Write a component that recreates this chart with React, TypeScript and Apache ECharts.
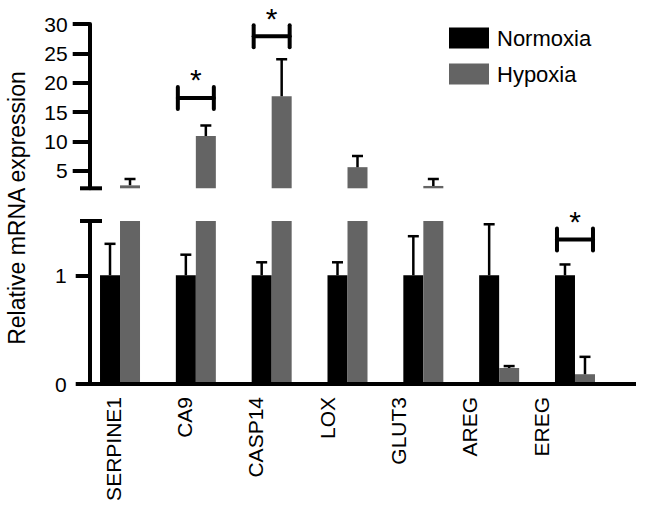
import React, { useEffect, useRef } from 'react';
import * as echarts from 'echarts';

const categories = ['SERPINE1', 'CA9', 'CASP14', 'LOX', 'GLUT3', 'AREG', 'EREG'];
const normoxia = [1, 1, 1, 1, 1, 1, 1];
const normoxiaErr = [1.29, 1.19, 1.12, 1.12, 1.36, 1.47, 1.1];
const hypoxia = [2.5, 10.9, 17.7, 5.6, 2.4, 0.147, 0.09];
const hypoxiaErr = [3.6, 12.7, 24.0, 7.5, 3.6, 0.165, 0.25];
const upperTicks = [5, 10, 15, 20, 25, 30];
const lowerTicks = [0, 1];
const upperBrackets = [[1, 17.4], [2, 27.9]];
const lowerBrackets = [[6, 1.33]];

const UPPER_MIN = 2;
const UPPER_MAX = 30;
const LOWER_MIN = 0;
const LOWER_MAX = 1.5;

const FONT = '"Liberation Sans", Arial, Helvetica, sans-serif';
const BLACK = '#000000';
const GRAY = '#646464';
const BAR_W = 20;

function errorSeries(gi: number, min: number, max: number) {
  const data: number[][] = [];
  categories.forEach((_, i) => {
    data.push([i, normoxia[i], normoxiaErr[i], -1]);
    data.push([i, hypoxia[i], hypoxiaErr[i], 1]);
  });
  return {
    type: 'custom',
    xAxisIndex: gi,
    yAxisIndex: gi,
    silent: true,
    clip: true,
    z: 5,
    data,
    renderItem: (params: any, api: any) => {
      const i = api.value(0);
      const lo = api.value(1);
      const hi = api.value(2);
      const side = api.value(3);
      if (hi < min || lo > max) return { type: 'group', children: [] };
      const b = api.coord([i, lo]);
      const t = api.coord([i, hi]);
      const x = b[0] + (side * BAR_W) / 2;
      const st = { stroke: BLACK, lineWidth: 2.5 };
      return {
        type: 'group',
        children: [
          { type: 'line', shape: { x1: x, y1: b[1], x2: x, y2: t[1] }, style: st },
          { type: 'line', shape: { x1: x - 5.5, y1: t[1], x2: x + 5.5, y2: t[1] }, style: st },
        ],
      };
    },
  };
}

function bracketSeries(gi: number, data: number[][]) {
  return {
    type: 'custom',
    xAxisIndex: gi,
    yAxisIndex: gi,
    silent: true,
    clip: false,
    z: 6,
    data,
    renderItem: (params: any, api: any) => {
      const p = api.coord([api.value(0), api.value(1)]);
      const hw = 18;
      const ch = 11;
      const st = { stroke: BLACK, lineWidth: 4, lineCap: 'round' };
      return {
        type: 'group',
        children: [
          { type: 'line', shape: { x1: p[0] - hw, y1: p[1], x2: p[0] + hw, y2: p[1] }, style: st },
          { type: 'line', shape: { x1: p[0] - hw, y1: p[1] - ch, x2: p[0] - hw, y2: p[1] + ch }, style: st },
          { type: 'line', shape: { x1: p[0] + hw, y1: p[1] - ch, x2: p[0] + hw, y2: p[1] + ch }, style: st },
          {
            type: 'text',
            x: p[0],
            y: p[1] - 18,
            style: { text: '*', align: 'center', verticalAlign: 'middle', fontSize: 30, fill: BLACK, fontFamily: FONT },
          },
        ],
      };
    },
  };
}

export default function App() {
  const ref = useRef<HTMLDivElement>(null);
  useEffect(() => {
    if (!ref.current) return;
    const chart = echarts.init(ref.current, undefined, { renderer: 'svg' });
    const yAxisCommon = {
      type: 'value',
      offset: -7.6,
      splitLine: { show: false },
      axisLine: { show: true, lineStyle: { color: BLACK, width: 4 } },
    };
    chart.setOption({
      animation: false,
      backgroundColor: '#ffffff',
      grid: [
        { left: 82.1, right: 33.1, top: 24, height: 164.3 },
        { left: 82.1, right: 33.1, top: 221, height: 163 },
        { left: 77.6, right: 69.3, top: 221, height: 163 },
      ],
      legend: {
        data: ['Normoxia', 'Hypoxia'],
        orient: 'vertical',
        left: 444,
        top: 22,
        itemWidth: 40,
        itemHeight: 21,
        itemGap: 14,
        icon: 'rect',
        selectedMode: false,
        textStyle: { fontSize: 22, color: BLACK, fontFamily: FONT, lineHeight: 21, padding: [0, 0, 0, 3] },
      },
      xAxis: [
        { gridIndex: 0, type: 'category', data: categories, show: false },
        {
          gridIndex: 1,
          type: 'category',
          data: categories,
          axisLine: { show: false },
          axisTick: { show: false },
          axisLabel: { show: false },
        },
        {
          gridIndex: 2,
          type: 'category',
          data: categories,
          axisLine: { show: false },
          axisTick: { show: false },
          axisLabel: { rotate: 90, margin: 13, fontSize: 21, color: BLACK, fontFamily: FONT },
        },
      ],
      yAxis: [
        {
          ...yAxisCommon,
          gridIndex: 0,
          min: UPPER_MIN,
          max: UPPER_MAX,
          axisTick: { show: true, length: 17, customValues: upperTicks, lineStyle: { color: BLACK, width: 4 } },
          axisLabel: { customValues: upperTicks, margin: 22, fontSize: 21, color: BLACK, fontFamily: FONT },
        },
        {
          ...yAxisCommon,
          gridIndex: 1,
          min: LOWER_MIN,
          max: LOWER_MAX,
          axisTick: { show: true, length: 14, customValues: lowerTicks, lineStyle: { color: BLACK, width: 4 } },
          axisLabel: { customValues: lowerTicks, margin: 23, fontSize: 21, color: BLACK, fontFamily: FONT },
        },
        { gridIndex: 2, type: 'value', show: false, min: 0, max: 1 },
      ],
      series: [
        {
          name: 'Normoxia',
          type: 'bar',
          xAxisIndex: 0,
          yAxisIndex: 0,
          barWidth: BAR_W,
          barGap: '0%',
          itemStyle: { color: BLACK },
          data: normoxia.map((v) => (v > UPPER_MIN ? v : null)),
        },
        {
          name: 'Hypoxia',
          type: 'bar',
          xAxisIndex: 0,
          yAxisIndex: 0,
          barWidth: BAR_W,
          barGap: '0%',
          itemStyle: { color: GRAY },
          data: hypoxia.map((v) => (v > UPPER_MIN ? v : null)),
        },
        {
          name: 'Normoxia',
          type: 'bar',
          xAxisIndex: 1,
          yAxisIndex: 1,
          barWidth: BAR_W,
          barGap: '0%',
          clip: true,
          itemStyle: { color: BLACK },
          data: normoxia,
        },
        {
          name: 'Hypoxia',
          type: 'bar',
          xAxisIndex: 1,
          yAxisIndex: 1,
          barWidth: BAR_W,
          barGap: '0%',
          clip: true,
          itemStyle: { color: GRAY },
          data: hypoxia,
        },
        errorSeries(0, UPPER_MIN, UPPER_MAX),
        errorSeries(1, LOWER_MIN, LOWER_MAX),
        bracketSeries(0, upperBrackets),
        bracketSeries(1, lowerBrackets),
      ],
      graphic: [
        { type: 'line', shape: { x1: 77, y1: 384, x2: 636, y2: 384 }, style: { stroke: BLACK, lineWidth: 4 }, z: 10 },
        { type: 'line', shape: { x1: 80, y1: 188.3, x2: 102, y2: 188.3 }, style: { stroke: BLACK, lineWidth: 4 }, z: 10 },
        { type: 'line', shape: { x1: 80, y1: 221, x2: 102, y2: 221 }, style: { stroke: BLACK, lineWidth: 4 }, z: 10 },
        {
          type: 'text',
          x: 17,
          y: 208,
          rotation: Math.PI / 2,
          style: {
            text: 'Relative mRNA expression',
            align: 'center',
            verticalAlign: 'middle',
            fontSize: 23,
            fill: BLACK,
            fontFamily: FONT,
          },
        },
      ],
    });
    return () => chart.dispose();
  }, []);
  return <div ref={ref} style={{ position: 'fixed', left: 0, top: 0, width: 646, height: 513 }} />;
}
